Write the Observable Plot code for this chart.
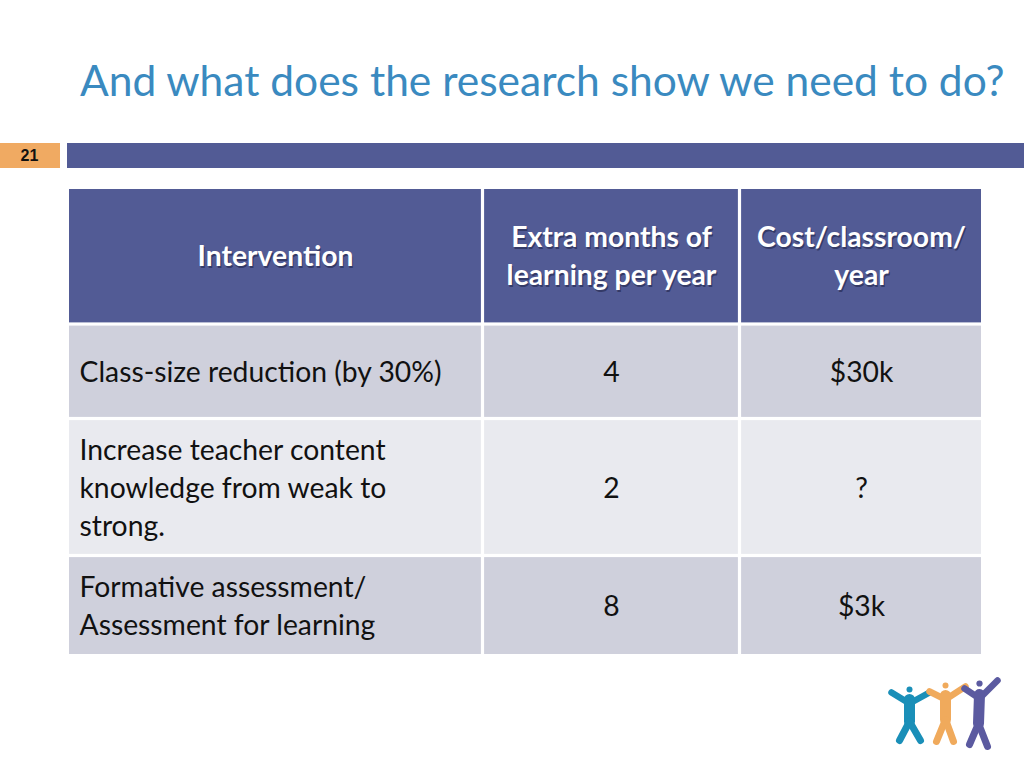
<!DOCTYPE html>
<html><head><meta charset="utf-8">
<script src="https://cdn.jsdelivr.net/npm/d3@7"></script>
<script src="https://cdn.jsdelivr.net/npm/@observablehq/plot@0.6"></script>
<style>
body{margin:0;background:#fff;width:1024px;height:768px;overflow:hidden;font-family:Lato,"Open Sans",sans-serif}
#head{position:relative;height:130px}
#title{position:absolute;left:80px;top:59px;font-size:42.5px;color:#3a8ac0;white-space:nowrap;line-height:1}
#chart svg{display:block}
</style></head><body>
<div id="head"><div id="title">And what does the research show we need to do?</div></div>
<div id="chart"></div>
<script>
// ---- data ----
const slideNumber = "21";
const headers = ["Intervention", "Extra months of\nlearning per year", "Cost/classroom/\nyear"];
const interventions = [
  "Class-size reduction (by 30%)",
  "Increase teacher content\nknowledge from weak to\nstrong.",
  "Formative assessment/\nAssessment for learning"
];
const months = [4, 2, 8];
const costs = ["$30k", "?", "$3k"];

// ---- layout ----
const colEdges = [69, 482.5, 739.5, 981];
const rowEdges = [189, 324, 418.5, 555.5, 654];
const g = 1.6;
const rowFills = ["#525b95", "#cfd0dc", "#e9eaef", "#cfd0dc"];
const fs = 28.3;
const lh = 38 / fs;

const cells = [];
const texts = [];
const rows = [headers, ...interventions.map((t, i) => [t, String(months[i]), costs[i]])];
rows.forEach((row, r) => {
  row.forEach((txt, c) => {
    const x1 = colEdges[c] + (c > 0 ? g : 0), x2 = colEdges[c + 1] - (c < 2 ? g : 0);
    const y1 = rowEdges[r] + (r > 0 ? g : 0), y2 = rowEdges[r + 1] - (r < 3 ? g : 0);
    cells.push({x1, x2, y1, y2, fill: rowFills[r]});
    texts.push({
      text: txt, header: r === 0,
      x: (r > 0 && c === 0) ? colEdges[0] + 10 : (x1 + x2) / 2,
      y: (y1 + y2) / 2 - 2,
      anchor: (r > 0 && c === 0) ? "start" : "middle"
    });
  });
});
const headerTexts = texts.filter(d => d.header);
const bodyStart = texts.filter(d => !d.header && d.anchor === "start");
const bodyMid = texts.filter(d => !d.header && d.anchor === "middle");

// slide band
const band = [
  {x1: 0, x2: 60, y1: 143, y2: 168, fill: "#f0aa62"},
  {x1: 67, x2: 1024, y1: 143, y2: 168, fill: "#525b95"}
];

// logo figures
const figs = [
  {c: "#1a8fb8", head: [909, 689], r: 6.5, neck: [909, 699], hip: [909, 721],
   lh: [891, 692], rh: [929, 692], lf: [899, 740], rf: [920, 740]},
  {c: "#f0aa5c", head: [945, 685], r: 6.5, neck: [945, 695], hip: [945, 719],
   lh: [929, 691], rh: [965, 686], lf: [936, 741], rf: [953, 741]},
  {c: "#5b5aa0", head: [979, 683], r: 7, neck: [979, 694], hip: [978, 723],
   lh: [964, 688], rh: [997, 680], lf: [969, 744], rf: [987, 746]}
];
const limbs = [];
figs.forEach(f => {
  const sh = [f.neck[0], f.neck[1] + 4];
  limbs.push({a: f.lh, b: sh, c: f.c, w: 6.5});
  limbs.push({a: f.rh, b: sh, c: f.c, w: 6.5});
  limbs.push({a: f.neck, b: f.hip, c: f.c, w: 11});
  limbs.push({a: f.hip, b: f.lf, c: f.c, w: 7});
  limbs.push({a: f.hip, b: f.rf, c: f.c, w: 7});
});

const font = "Lato, 'Open Sans', sans-serif";
const plot = Plot.plot({
  width: 1024, height: 638,
  margin: 0,
  x: {domain: [0, 1024], range: [0, 1024], axis: null},
  y: {domain: [130, 768], range: [0, 638], axis: null},
  style: {background: "#fff", fontFamily: font},
  marks: [
    Plot.rect(band, {x1: "x1", x2: "x2", y1: "y1", y2: "y2", fill: d => d.fill}),
    Plot.text([slideNumber], {x: 29, y: 155, text: d => d, fontSize: 16, fontWeight: "bold", fill: "#111", fontFamily: "Liberation Sans, Arial, sans-serif"}),
    Plot.rect(cells, {x1: "x1", x2: "x2", y1: "y1", y2: "y2", fill: d => d.fill}),
    Plot.text(headerTexts, {x: "x", y: "y", text: "text", textAnchor: "middle", fontSize: fs, fontWeight: "bold", fill: "#1a1d40", fillOpacity: 0.55, dx: 1.2, dy: 1.6, lineHeight: lh}),
    Plot.text(headerTexts, {x: "x", y: "y", text: "text", textAnchor: "middle", fontSize: fs, fontWeight: "bold", fill: "#fff", lineHeight: lh}),
    Plot.text(bodyStart, {x: "x", y: "y", text: "text", textAnchor: "start", fontSize: fs, fill: "#111", lineHeight: lh}),
    Plot.text(bodyMid, {x: "x", y: "y", text: "text", textAnchor: "middle", fontSize: fs, fill: "#111", lineHeight: lh}),
    Plot.link(limbs, {x1: d => d.a[0], y1: d => d.a[1], x2: d => d.b[0], y2: d => d.b[1], stroke: d => d.c, strokeWidth: d => d.w, strokeLinecap: "round"}),
    Plot.dot(figs, {x: d => d.head[0], y: d => d.head[1], r: d => d.r, fill: d => d.c})
  ]
});
document.getElementById("chart").appendChild(plot);
</script>
</body></html>
